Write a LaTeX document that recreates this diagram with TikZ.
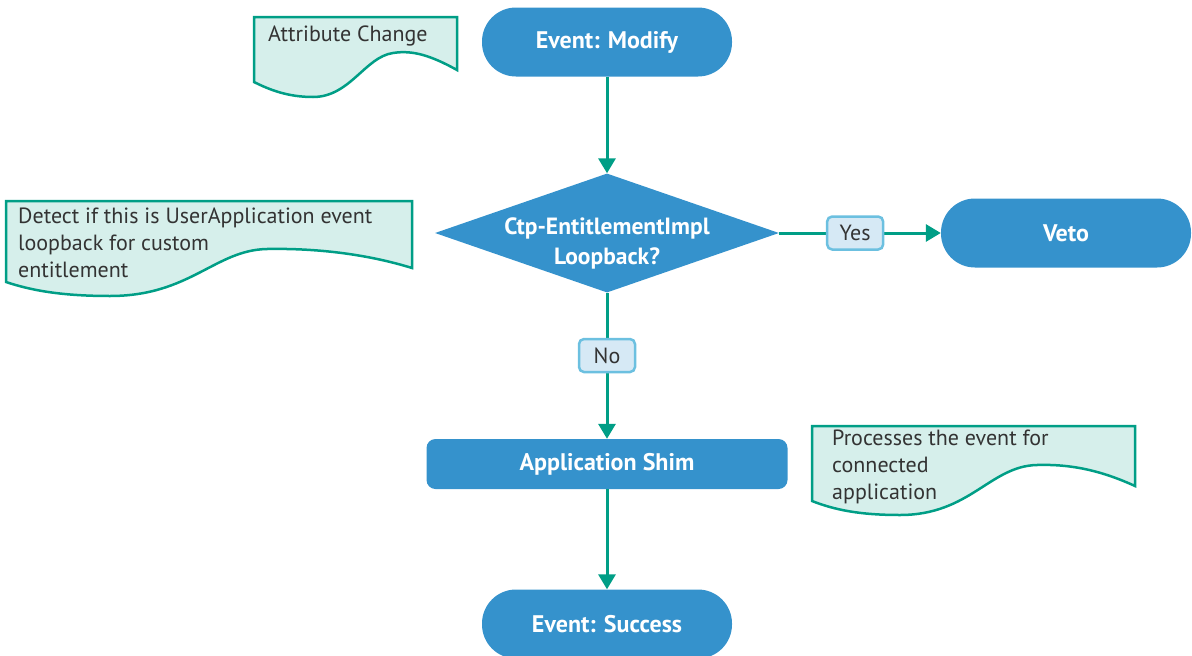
\documentclass[tikz,border=0pt]{standalone}
\usepackage{fontspec}
\setmainfont{PT Sans}
\usetikzlibrary{shapes.geometric,arrows.meta}
\definecolor{nodeblue}{RGB}{53,146,204}
\definecolor{linegreen}{RGB}{0,158,134}
\definecolor{notefill}{RGB}{214,239,235}
\definecolor{lblfill}{RGB}{214,233,245}
\definecolor{lbldraw}{RGB}{108,192,224}
\definecolor{txtgray}{RGB}{51,51,51}
\begin{document}
\begin{tikzpicture}[x=1pt,y=-1pt,
  bluetext/.style={text=white, font=\fontsize{24}{28}\selectfont\bfseries},
  pill/.style={bluetext, fill=nodeblue, rounded corners=34pt, minimum width=250pt, minimum height=69pt, inner sep=0pt},
  shim/.style={bluetext, fill=nodeblue, rounded corners=9pt, minimum width=361pt, minimum height=50pt, inner sep=0pt},
  dia/.style={diamond, fill=nodeblue, minimum width=344pt, minimum height=119pt, inner sep=0pt},
  conn/.style={draw=linegreen, line width=3pt, -{Triangle[length=15pt,width=17pt]}},
  lbl/.style={fill=lblfill, draw=lbldraw, line width=2.5pt, rounded corners=5pt, minimum width=56pt, minimum height=33pt, inner sep=0pt, text=txtgray, font=\fontsize{22}{26}\selectfont},
  notebox/.style={fill=notefill, draw=linegreen, line width=2.5pt},
  notetext/.style={anchor=north west, align=left, inner sep=0pt, text=txtgray, font=\fontsize{22}{27}\selectfont}
]
\useasboundingbox (0,0) rectangle (1192,656);

% notes
\path[notebox] (254,17) -- (457,17) -- (457,70) .. controls (430,55) and (412,50) .. (393,53) .. controls (365,57) and (350,97) .. (313,97) .. controls (288,97) and (270,90) .. (254,82) -- cycle;
\node[notetext] (n1) at (268,26) {Attribute Change};

\path[notebox] (6,201) -- (412,201) -- (412,268) .. controls (370,255) and (320,248) .. (267,249) .. controls (215,250) and (190,296) .. (110,296) .. controls (60,296) and (30,290) .. (6,282) -- cycle;
\node[notetext] (n2) at (18,208) {Detect if this is UserApplication event\\loopback for custom\\entitlement};

\path[notebox] (812,426) -- (1135,426) -- (1135,486) .. controls (1100,470) and (1070,464) .. (1037,465) .. controls (990,466) and (970,515) .. (900,515) .. controls (860,515) and (835,510) .. (812,501) -- cycle;
\node[notetext] (n3) at (832,430) {Processes the event for\\connected\\application};

% nodes
\node[pill] (modify) at (607,42) {Event: Modify};
\node[dia] (d) at (607,233) {};
\node[bluetext, align=center, font=\fontsize{23.5}{30}\selectfont\bfseries] (dtext) at (607,243) {Ctp-EntitlementImpl\\Loopback?};
\node[pill] (veto) at (1066,233) {Veto};
\node[shim] (shim) at (607,464) {Application Shim};
\node[pill] (success) at (607,624) {Event: Success};

% connectors
\draw[conn] (modify) -- (d);
\draw[conn] (d.east) -- node[lbl, pos=0.47] (yes) {Yes} (veto.west);
\draw[conn] (d.south) -- node[lbl, pos=0.43] (no) {No} (shim.north);
\draw[conn] (shim) -- (success);
\end{tikzpicture}
\end{document}
